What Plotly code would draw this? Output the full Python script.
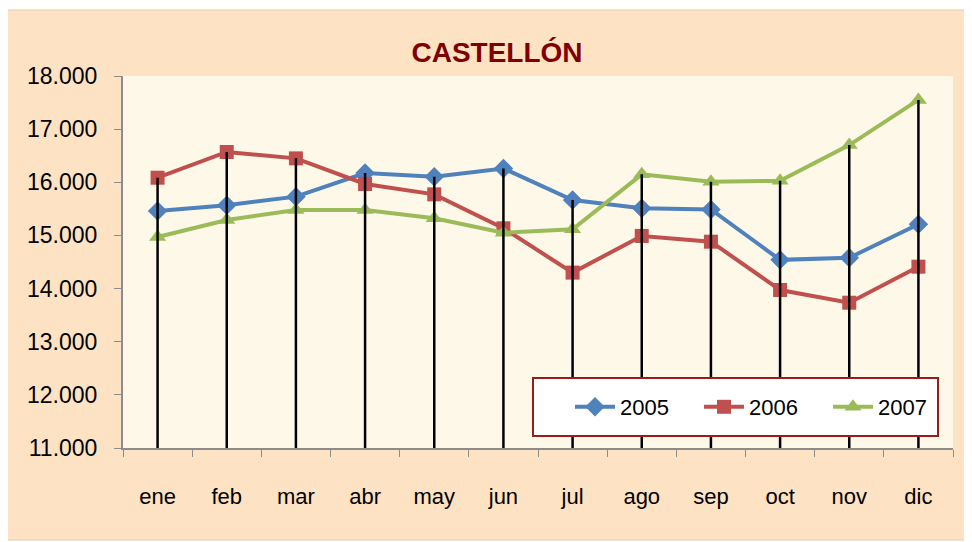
import plotly.graph_objects as go

months = ["ene", "feb", "mar", "abr", "may", "jun", "jul", "ago", "sep", "oct", "nov", "dic"]
y2005 = [15460, 15570, 15730, 16175, 16105, 16260, 15667, 15510, 15490, 14540, 14580, 15210]
y2006 = [16086, 16570, 16450, 15968, 15773, 15134, 14300, 14990, 14882, 13973, 13734, 14412]
y2007 = [14970, 15290, 15480, 15480, 15322, 15050, 15115, 16150, 16010, 16030, 16700, 17550]
y_ticks = [11000, 12000, 13000, 14000, 15000, 16000, 17000, 18000]
y_min, y_max = 11000, 18000

fig = go.Figure()

series = [
    ("2005", y2005, "#4F81BD", "diamond", 15),
    ("2006", y2006, "#C0504D", "square", 14),
    ("2007", y2007, "#9BBB59", "triangle-up", 15),
]
for name, ys, col, sym, sz in series:
    fig.add_trace(go.Scatter(
        x=months, y=ys, name=name, mode="lines+markers",
        line=dict(color=col, width=4),
        marker=dict(symbol=sym, size=sz, color=col),
    ))

# drop lines from the highest point to the axis
dx, dy = [], []
for i, m in enumerate(months):
    top = max(y2005[i], y2006[i], y2007[i])
    dx += [m, m, None]
    dy += [top, y_min, None]
fig.add_trace(go.Scatter(x=dx, y=dy, mode="lines", line=dict(color="black", width=2.5),
                         showlegend=False, hoverinfo="skip"))

OFF = 8  # default page body margin
W, H = 972 - OFF, 542 - OFF
# plot area in window pixels: x 123..953, y 76..448
L, T = 123 - OFF, 76 - OFF
R = 972 - 953
B = H - T - (448 - 76)
pw, ph = W - L - R, H - T - B

def px(xw):
    return (xw - OFF - L) / pw

def py(yw):
    return (H - B - (yw - OFF)) / ph

shapes = [
    dict(type="rect", xref="paper", yref="paper", x0=px(5), x1=px(969), y0=py(540), y1=py(10),
         fillcolor="#FDE2C3", line=dict(color="#E8C9A8", width=1), layer="below"),
    dict(type="rect", xref="paper", yref="paper", x0=0, x1=1, y0=0, y1=1,
         fillcolor="#FEF8E8", line=dict(width=0), layer="below"),
    dict(type="rect", xref="paper", yref="paper", x0=px(533), x1=px(938), y0=py(436), y1=py(378),
         fillcolor="white", line=dict(color="#9B1B1B", width=2), layer="above"),
]

fig.update_layout(
    width=W, height=H,
    margin=dict(l=L, r=R, t=T, b=B),
    paper_bgcolor="white",
    plot_bgcolor="rgba(0,0,0,0)",
    separators=",.",
    font=dict(family="Liberation Sans, Arial, sans-serif", size=22, color="black"),
    title=dict(text="<b>CASTELLÓN</b>", x=(497 - OFF) / W, xanchor="center",
               y=1 - (52 - OFF) / H, yanchor="middle",
               font=dict(family="Liberation Sans, Arial", size=28, color="#7F0000")),
    shapes=shapes,
    showlegend=True,
    legend=dict(orientation="h", x=px(570), xanchor="left", y=py(407), yanchor="middle",
                bgcolor="rgba(0,0,0,0)", borderwidth=0, font=dict(size=22),
                entrywidth=74, itemwidth=40),
    xaxis=dict(showgrid=False, showline=True, linecolor="#8C8C8C", linewidth=2,
               ticks="outside", ticklen=7, tickcolor="#8C8C8C", tickson="boundaries",
               ticklabelstandoff=28, range=[-0.5, 11.5], tickangle=0, automargin=False),
    yaxis=dict(range=[y_min, y_max], tickvals=y_ticks, tickformat=",.0f", showgrid=False,
               zeroline=False, showline=True, linecolor="#8C8C8C", linewidth=2,
               ticks="outside", ticklen=7, tickcolor="#8C8C8C", ticklabelstandoff=12,
               tickfont=dict(size=23), automargin=False),
)

fig.write_html("out.html")
